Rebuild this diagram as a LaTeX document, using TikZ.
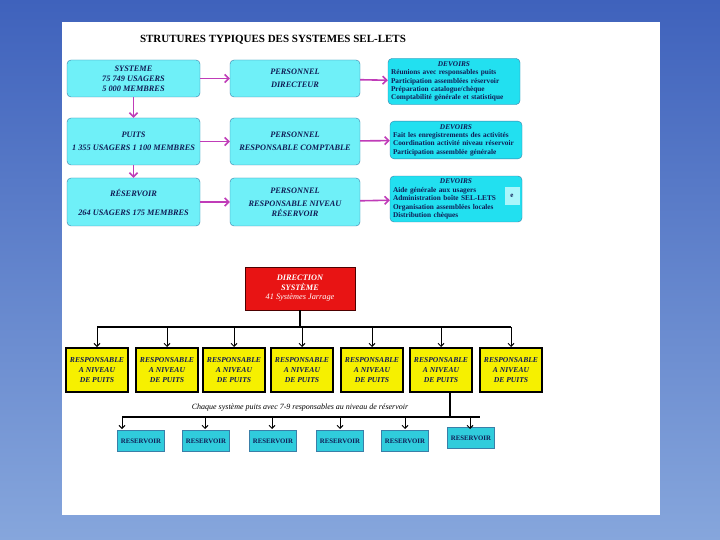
\documentclass[tikz,border=0pt]{standalone}
\usepackage{fontspec}
\setmainfont{Liberation Serif}
\usepackage{tikz}
\usetikzlibrary{calc,arrows.meta,positioning}
\definecolor{sl-sea}{HTML}{3F62BC}
\definecolor{sl-sealight}{HTML}{86A6DC}
\definecolor{sl-cyan}{HTML}{6FF0F8}
\definecolor{sl-cyanedge}{HTML}{3A7FA8}
\definecolor{sl-dev}{HTML}{22E0F0}
\definecolor{sl-navy}{HTML}{101C55}
\definecolor{sl-link}{HTML}{C03CB8}
\definecolor{sl-red}{HTML}{E81414}
\definecolor{sl-yellow}{HTML}{F6F000}
\definecolor{sl-res}{HTML}{30CCDC}

\newcommand{\devhead}[1]{\makebox[\linewidth][c]{\itshape #1}}

\tikzset{
  infobox/.style={draw=sl-cyanedge, fill=sl-cyan, rounded corners=4pt, thin,
    minimum width=133pt, minimum height=40pt, align=center, text=sl-navy,
    font=\fontsize{8.3}{10}\selectfont\bfseries\itshape},
  devbox/.style={draw=sl-cyanedge, fill=sl-dev, rounded corners=4pt, thin,
    text width=126pt, align=left, text=sl-navy, inner sep=3pt,
    font=\fontsize{7.3}{8.4}\selectfont\bfseries},
  link/.style={->, sl-link, line width=1.6pt, >={Straight Barb[length=4pt]}},
  respbox/.style={draw=black, line width=2pt, fill=sl-yellow,
    minimum width=62pt, minimum height=44pt, align=center, text=sl-navy, inner sep=1pt,
    font=\fontsize{7.6}{10}\selectfont\bfseries\itshape},
  resbox/.style={draw=sl-cyanedge, fill=sl-res, minimum width=47pt, minimum height=21pt,
    text=sl-navy, inner sep=1pt, font=\fontsize{6.8}{7}\selectfont\bfseries},
  bus/.style={line width=1.6pt, black},
  drop/.style={->, black, line width=1pt, >={Straight Barb[length=3pt]}}
}

\begin{document}
\begin{tikzpicture}[x=1pt, y=-1pt]
    % slide background
    \shade[top color=sl-sea, bottom color=sl-sealight] (0,0) rectangle (720,540);
    \fill[white] (62,22) rectangle (660,515);
    \useasboundingbox (0,0) rectangle (720,540);

    \node[font=\fontsize{11}{13}\selectfont\bfseries, text=black] (title) at (273,40)
        {STRUTURES TYPIQUES DES SYSTEMES SEL-LETS};

    % rangee systeme
    \node[infobox, minimum height=37pt] (sys) at (133.5,78.5)
        {SYSTEME\\75 749 USAGERS\\5 000 MEMBRES};
    \node[infobox, minimum width=130pt, minimum height=37pt] (pers1) at (295,78.5)
        {PERSONNEL\\[3pt]DIRECTEUR};
    \node[devbox] (dev1) at (454,81.5)
        {\devhead{DEVOIRS}\\
         Réunions avec responsables puits\\
         Participation assemblées réservoir\\
         Préparation catalogue/chèque\\
         Comptabilité générale et statistique};

    % rangee puits
    \node[infobox, minimum height=47pt] (puits) at (133.5,141.5)
        {PUITS\\[3pt]1 355 USAGERS 1 100 MEMBRES};
    \node[infobox, minimum width=130pt, minimum height=47pt] (pers2) at (295,141.5)
        {PERSONNEL\\[3pt]RESPONSABLE COMPTABLE};
    \node[devbox] (dev2) at (456,140)
        {\devhead{DEVOIRS}\\
         Fait les enregistrements des activités\\
         Coordination activité niveau réservoir\\
         Participation assemblée générale};

    % rangee reservoir
    \node[infobox, minimum height=48pt] (res) at (133.5,202)
        {RÉSERVOIR\\[9pt]264 USAGERS 175 MEMBRES};
    \node[infobox, minimum width=130pt, minimum height=48pt] (pers3) at (295,202)
        {PERSONNEL\\[3pt]RESPONSABLE NIVEAU\\RÉSERVOIR};
    \node[devbox] (dev3) at (456,199)
        {\devhead{DEVOIRS}\\
         Aide générale aux usagers\\
         Administration boîte SEL-LETS\\
         Organisation assemblées locales\\
         Distribution chèques};
    \node[fill=sl-cyan!60, minimum width=15pt, minimum height=18pt, inner sep=0pt,
          font=\fontsize{7}{8}\selectfont\bfseries, text=sl-navy] (extra) at (512,196) {e};

    \draw[link] (sys) -- (pers1);
    \draw[link] (pers1) -- (dev1);
    \draw[link] (puits) -- (pers2);
    \draw[link] (pers2) -- (dev2);
    \draw[link] (res) -- (pers3);
    \draw[link] (pers3) -- (dev3);
    \draw[link] (sys) -- (puits);
    \draw[link] (puits) -- (res);

    % organigramme
    \node[draw=black!70!red, fill=sl-red, minimum width=110pt, minimum height=43pt,
          align=center, text=white, font=\fontsize{8.3}{9.5}\selectfont\bfseries\itshape] (dir) at (300,288.5)
        {DIRECTION\\SYSTÈME\\{\mdseries 41 Systèmes Jarrage}};
    \coordinate (busL) at (97,327);
    \coordinate (busR) at (511,327);
    \draw[bus] (dir.south) -- (dir.south |- busL);
    \draw[bus] (busL) -- (busR);

    \foreach \i/\x in {1/97, 2/167, 3/234, 4/302, 5/372, 6/441, 7/511} {
        \node[respbox] (resp\i) at (\x,370) {RESPONSABLE\\A NIVEAU\\DE PUITS};
        \draw[drop] (resp\i.north |- busL) -- (resp\i.north);
    }

    \node[font=\fontsize{8}{9}\selectfont\itshape, text=black] (note) at (300,408)
        {Chaque système puits avec 7-9 responsables au niveau de réservoir};

    \coordinate (bus2L) at (122,417);
    \coordinate (bus2R) at (480,417);
    \draw[bus] (resp6.south -| 450,0) -- (450,417);
    \draw[bus] (bus2L) -- (bus2R);

    \foreach \j/\x/\y in {1/141/441, 2/206/441, 3/273/441, 4/340/441, 5/405/441, 6/471/438} {
        \node[resbox] (rv\j) at (\x,\y) {RESERVOIR};
    }
    \foreach \j/\x in {1/122, 2/205, 3/272, 4/340, 5/405, 6/470} {
        \draw[drop] (\x,417) -- (\x,429);
    }
\end{tikzpicture}
\end{document}
